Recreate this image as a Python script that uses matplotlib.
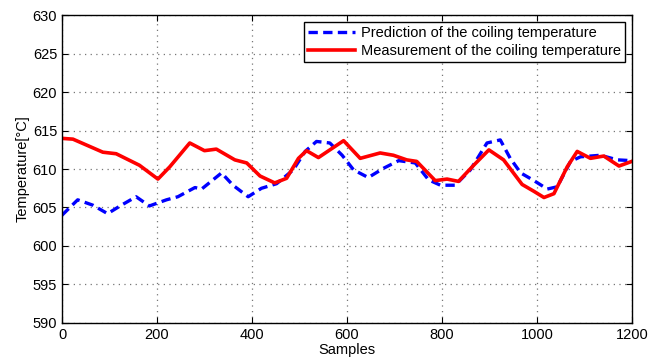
import numpy as np
import matplotlib.pyplot as plt

plt.rcParams['font.family'] = ['Liberation Sans', 'DejaVu Sans']

# values
pred_x = [0, 33, 65, 96, 125, 156, 184, 220, 244, 280, 294, 336, 360, 392, 420, 452,
          487, 512, 536, 564, 590, 614, 645, 677, 709, 744, 772, 797, 828, 860, 895,
          923, 944, 966, 994, 1022, 1043, 1071, 1092, 1134, 1170, 1200]
pred_y = [604.0, 606.0, 605.3, 604.2, 605.3, 606.4, 605.2, 606.0, 606.4, 607.6, 607.4,
          609.5, 607.9, 606.4, 607.5, 608.1, 609.9, 612.3, 613.6, 613.4, 611.8, 609.9,
          608.9, 610.1, 611.1, 610.8, 608.6, 607.9, 607.9, 609.9, 613.4, 613.8, 611.4,
          609.5, 608.5, 607.4, 607.7, 611.0, 611.6, 611.8, 611.2, 611.1]

meas_x = [0, 23, 86, 114, 163, 202, 227, 269, 300, 325, 364, 389, 417, 448, 473, 498,
          515, 540, 593, 628, 670, 698, 726, 747, 786, 811, 835, 867, 899, 930, 969,
          994, 1015, 1036, 1064, 1085, 1113, 1141, 1173, 1200]
meas_y = [614.0, 613.9, 612.2, 612.0, 610.5, 608.7, 610.3, 613.4, 612.4, 612.6, 611.2,
          610.8, 609.1, 608.2, 608.8, 611.4, 612.4, 611.5, 613.7, 611.4, 612.1, 611.8,
          611.2, 611.0, 608.5, 608.7, 608.4, 610.5, 612.5, 611.2, 608.0, 607.1, 606.3,
          606.8, 610.3, 612.3, 611.4, 611.7, 610.4, 611.0]

fig = plt.figure(figsize=(6.48, 3.6), dpi=100)
ax = fig.add_axes([0.0957, 0.1036, 0.8793, 0.8534])

l1, = ax.plot(pred_x, pred_y, color='#0000ff', lw=2.4, linestyle='--',
              dash_joinstyle='round', label='Prediction of the coiling temperature')
l1.set_dashes((2.8, 1.6))
ax.plot(meas_x, meas_y, color='#ff0000', lw=2.6, solid_joinstyle='round',
        label='Measurement of the coiling temperature')

ax.set_xlim(0, 1200)
ax.set_ylim(590, 630)
ax.set_xticks(np.arange(0, 1201, 200))
ax.set_yticks(np.arange(590, 631, 5))
ax.grid(True, linestyle=(0, (1, 3.5)), color='#777777', lw=0.9)
ax.tick_params(direction='in', top=True, right=True, labelsize=10.5, length=4)
for s in ax.spines.values():
    s.set_linewidth(1.0)

ax.set_xlabel('Samples', fontsize=10.5, labelpad=1)
ax.set_ylabel('Temperature[°C]', fontsize=10.5, labelpad=2)

leg = ax.legend(loc='upper right', fontsize=10.5, fancybox=False, framealpha=1,
                edgecolor='black', borderpad=0.3, labelspacing=0.25,
                handlelength=3.2, handletextpad=0.4, borderaxespad=0.45)
leg.get_frame().set_linewidth(1.0)

fig.savefig('out.png', dpi=100)
